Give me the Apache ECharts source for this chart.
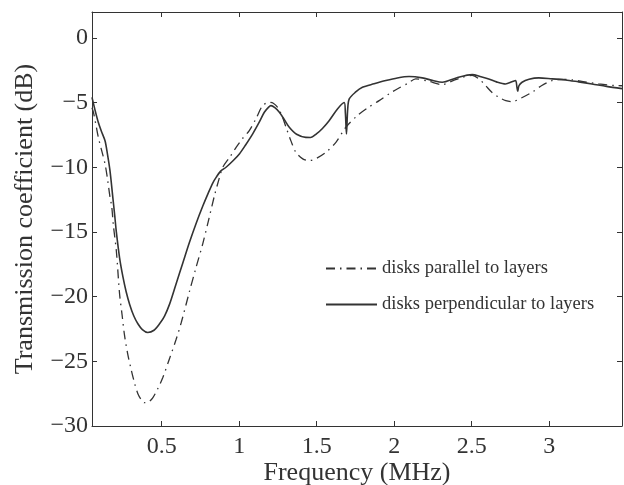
<!DOCTYPE html>
<html>
<head>
<meta charset="utf-8">
<script src="https://cdn.jsdelivr.net/npm/echarts@6/dist/echarts.min.js"></script>
<style>
html,body{margin:0;padding:0;background:#fff;}
#chart{width:624px;height:485px;}
</style>
</head>
<body>
<div id="chart"></div>
<script>
// Series names
const seriesNames = ['disks parallel to layers', 'disks perpendicular to layers'];

// Frequency (MHz) and transmission coefficient (dB): disks parallel to layers
const freqParallel = [0.05,0.06,0.075,0.091,0.11,0.134,0.15,0.166,0.177,0.188,0.207,0.228,0.245,0.26,0.28,0.304,0.325,0.346,0.37,0.389,0.415,0.443,0.475,0.507,0.55,0.593,0.626,0.679,0.72,0.765,0.80,0.84,0.87,0.894,0.94,0.98,1.02,1.065,1.11,1.151,1.194,1.22,1.248,1.275,1.302,1.335,1.366,1.41,1.452,1.50,1.559,1.624,1.688,1.763,1.83,1.903,1.97,2.031,2.09,2.139,2.22,2.31,2.38,2.439,2.503,2.55,2.59,2.63,2.675,2.72,2.761,2.82,2.89,2.95,3.018,3.08,3.15,3.23,3.319,3.426,3.47];
const dbParallel = [-5.4,-5.8,-6.7,-7.69,-8.6,-9.74,-10.9,-12.3,-13.0,-14.5,-16.45,-19.8,-21.5,-23.0,-24.4,-25.7,-26.7,-27.5,-28.0,-28.2,-28.15,-27.8,-27.1,-26.25,-24.8,-23.3,-22.0,-19.6,-17.8,-15.9,-14.2,-12.2,-10.9,-10.0,-9.2,-8.46,-7.8,-7.17,-6.2,-5.24,-4.98,-5.05,-5.37,-6.0,-6.91,-8.0,-8.85,-9.35,-9.49,-9.3,-8.85,-8.07,-6.91,-6.0,-5.4,-4.85,-4.3,-3.87,-3.5,-3.17,-3.35,-3.61,-3.3,-3.05,-2.9,-3.2,-3.69,-4.2,-4.59,-4.85,-4.93,-4.65,-4.2,-3.7,-3.3,-3.2,-3.25,-3.4,-3.56,-3.69,-3.7];

// Frequency (MHz) and transmission coefficient (dB): disks perpendicular to layers
const freqPerp = [0.05,0.07,0.09,0.11,0.134,0.15,0.166,0.185,0.198,0.207,0.228,0.25,0.27,0.293,0.32,0.346,0.375,0.41,0.45,0.486,0.518,0.55,0.593,0.636,0.679,0.72,0.765,0.80,0.83,0.851,0.88,0.915,0.96,1.001,1.04,1.087,1.13,1.162,1.19,1.205,1.23,1.259,1.29,1.323,1.37,1.43,1.46,1.50,1.537,1.58,1.634,1.677,1.685,1.692,1.70,1.71,1.75,1.795,1.87,1.946,2.02,2.096,2.181,2.25,2.31,2.40,2.503,2.56,2.61,2.66,2.718,2.76,2.783,2.792,2.797,2.805,2.825,2.87,2.933,3.02,3.105,3.19,3.276,3.37,3.47];
const dbPerp = [-4.6,-5.6,-6.5,-7.2,-7.95,-9.0,-10.26,-12.4,-13.9,-15.0,-17.0,-18.5,-19.6,-20.6,-21.5,-22.1,-22.55,-22.77,-22.6,-22.1,-21.5,-20.6,-19.0,-17.4,-15.8,-14.4,-13.0,-12.0,-11.2,-10.78,-10.3,-10.0,-9.5,-8.97,-8.3,-7.42,-6.5,-5.75,-5.35,-5.24,-5.4,-5.75,-6.3,-6.91,-7.45,-7.69,-7.7,-7.4,-7.0,-6.4,-5.49,-5.0,-5.8,-7.43,-5.5,-4.72,-4.2,-3.82,-3.55,-3.3,-3.1,-2.99,-3.09,-3.3,-3.43,-3.1,-2.84,-3.0,-3.17,-3.4,-3.56,-3.4,-3.3,-3.8,-4.13,-3.7,-3.43,-3.2,-3.09,-3.17,-3.25,-3.4,-3.56,-3.75,-3.92];

// Tick values
const xTicks = [0.5, 1, 1.5, 2, 2.5, 3];
const yTicks = [-30, -25, -20, -15, -10, -5, 0];

const pair = (xs, ys) => xs.map((x, i) => [x, ys[i]]);
const ink = '#333333';
const serif = '"Liberation Serif", "Times New Roman", serif';

const chart = echarts.init(document.getElementById('chart'));
const axisBase = {
  type: 'value',
  axisLine: { show: true, onZero: false, lineStyle: { color: ink, width: 1 } },
  splitLine: { show: false }
};
chart.setOption({
  animation: false,
  backgroundColor: '#ffffff',
  grid: { left: 92, top: 12, right: 2, bottom: 59, containLabel: false, outerBoundsMode: 'none' },
  legend: {
    orient: 'vertical',
    left: 320,
    top: 254,
    itemWidth: 51,
    itemHeight: 14,
    itemGap: 17,
    itemStyle: { opacity: 0 },
    textStyle: { fontFamily: serif, fontSize: 18.5, color: ink },
    data: seriesNames
  },
  xAxis: [
    Object.assign({}, axisBase, {
      min: 0.05, max: 3.47, position: 'bottom',
      name: 'Frequency (MHz)', nameLocation: 'middle', nameGap: 34, nameMoveOverlap: false,
      nameTextStyle: { fontFamily: serif, fontSize: 26, color: ink },
      axisTick: { show: true, inside: true, length: 5, lineStyle: { color: ink }, customValues: xTicks },
      axisLabel: { customValues: xTicks, fontFamily: serif, fontSize: 24, color: ink, margin: 9 }
    }),
    Object.assign({}, axisBase, {
      min: 0.05, max: 3.47, position: 'top',
      axisTick: { show: true, inside: true, length: 5, lineStyle: { color: ink }, customValues: xTicks },
      axisLabel: { show: false }
    })
  ],
  yAxis: [
    Object.assign({}, axisBase, {
      min: -30, max: 2, position: 'left',
      name: 'Transmission coefficient (dB)', nameLocation: 'middle', nameGap: 54,
      nameTextStyle: { fontFamily: serif, fontSize: 26, color: ink },
      axisTick: { show: true, inside: true, length: 5, lineStyle: { color: ink }, customValues: yTicks },
      axisLabel: { customValues: yTicks, fontFamily: serif, fontSize: 24, color: ink, margin: 4,
        formatter: v => (v < 0 ? '\u2212' + Math.abs(v) : String(v)) }
    }),
    Object.assign({}, axisBase, {
      min: -30, max: 2, position: 'right',
      axisTick: { show: true, inside: true, length: 5, lineStyle: { color: ink }, customValues: yTicks },
      axisLabel: { show: false }
    })
  ],
  series: [
    {
      name: seriesNames[0], type: 'line', xAxisIndex: 0, yAxisIndex: 0,
      data: pair(freqParallel, dbParallel), symbol: 'none', smooth: 0.3,
      lineStyle: { color: ink, width: 1.3, type: [9, 5, 1.5, 5] },
      itemStyle: { color: ink }
    },
    {
      name: seriesNames[1], type: 'line', xAxisIndex: 0, yAxisIndex: 0,
      data: pair(freqPerp, dbPerp), symbol: 'none', smooth: 0.3,
      lineStyle: { color: ink, width: 1.6, type: 'solid' },
      itemStyle: { color: ink }
    }
  ]
});
</script>
</body>
</html>
